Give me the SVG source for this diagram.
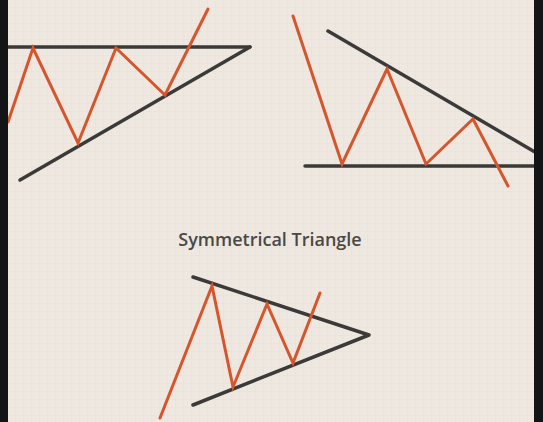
<svg xmlns="http://www.w3.org/2000/svg" width="543" height="422" viewBox="0 0 543 422">
<defs>
<pattern id="grid" width="8" height="8" patternUnits="userSpaceOnUse">
<path d="M8 0V8M0 8H8" fill="none" stroke="#e3dcd4" stroke-width="0.6"/>
</pattern>
<style>
.trend{fill:none;stroke:#3b3a39;stroke-width:3.5;stroke-linecap:round;stroke-linejoin:round}
.price{fill:none;stroke:#d5562c;stroke-width:3;stroke-linecap:round;stroke-linejoin:miter}
.title{font-family:"Open Sans","Noto Sans",sans-serif;font-weight:600;font-size:18px;fill:#4a4846}
</style>
</defs>
<rect width="543" height="422" fill="#eee8e1"/>
<rect width="543" height="422" fill="url(#grid)"/>
<g id="ascending-triangle">
<path class="trend" d="M8 47H250"/>
<path class="trend" d="M20 180L250 47"/>
<path class="price" d="M8 122L33 48L78 143L116 48L165 95L208 9"/>
</g>
<g id="descending-triangle">
<path class="trend" d="M328 31L540 155"/>
<path class="trend" d="M305 166H540"/>
<path class="price" d="M293 16L342 164L387 69L426 164L473 119L508 186"/>
</g>
<g id="symmetrical-triangle">
<text class="title" x="270" y="246" text-anchor="middle">Symmetrical Triangle</text>
<path class="trend" d="M193 277L369 335L193 405"/>
<path class="price" d="M160 418L212 286L233 387L267 304L293 363L320 293"/>
</g>
<g id="connectors"/>
<rect x="0" y="0" width="8" height="422" fill="#121416"/>
<rect x="534" y="0" width="9" height="422" fill="#121416"/>
</svg>
